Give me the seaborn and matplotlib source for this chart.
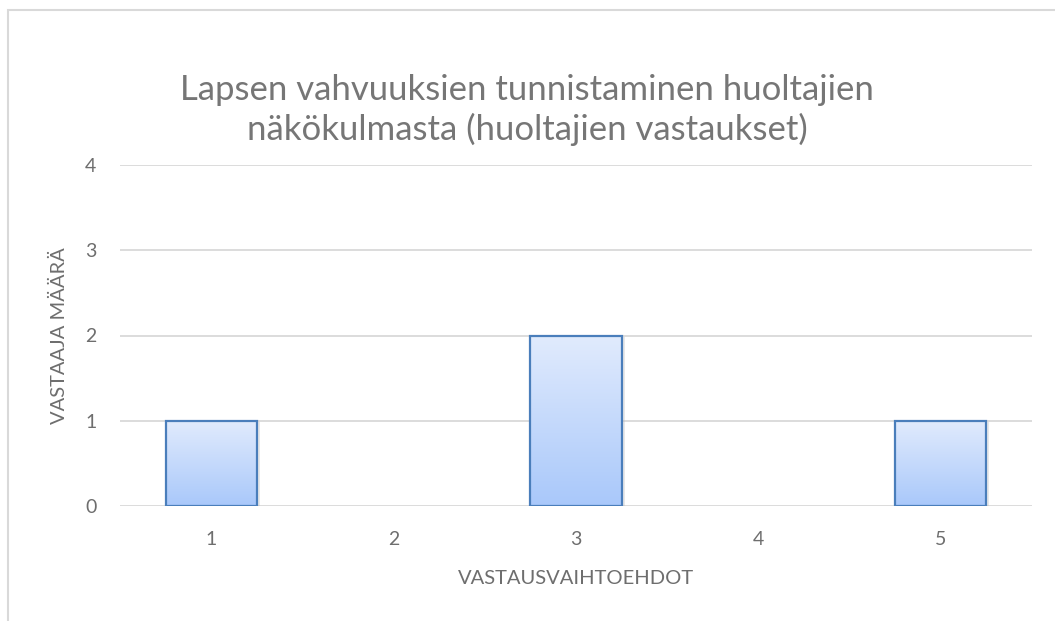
import numpy as np
import pandas as pd
import matplotlib
matplotlib.use("Agg")
import matplotlib.pyplot as plt
import seaborn as sns
from matplotlib.patches import Rectangle
from matplotlib.colors import LinearSegmentedColormap

categories = ["1", "2", "3", "4", "5"]
values = [1, 0, 2, 0, 1]
yticks = [0, 1, 2, 3, 4]
title = "Lapsen vahvuuksien tunnistaminen huoltajien\nnäkökulmasta (huoltajien vastaukset)"
xlabel = "VASTAUSVAIHTOEHDOT"
ylabel = "VASTAAJA MÄÄRÄ"

sns.set_theme(style="white")
plt.rcParams['font.family'] = ['Lato', 'DejaVu Sans']

W, H = 1055, 621
fig = plt.figure(figsize=(W / 100, H / 100), dpi=100)
ax = fig.add_axes([120 / W, 1 - 506 / H, (1032 - 120) / W, (506 - 165) / H])

df = pd.DataFrame({"cat": categories, "val": values})
sns.barplot(data=df, x="cat", y="val", ax=ax, width=0.5, color="#c5d9fb",
            edgecolor="#4a7ebb", linewidth=1.6, zorder=3)

ax.set_ylim(0, 4)
ax.set_yticks(yticks)
ax.set_xlim(-0.5, len(categories) - 0.5)
for y in yticks:
    ax.axhline(y, color="#d9d9d9", lw=1.3, zorder=1)
for s in ax.spines.values():
    s.set_visible(False)

grad = np.linspace(0, 1, 256).reshape(-1, 1)
cmap = LinearSegmentedColormap.from_list("g", ["#a9c8fa", "#e1ebfd"])
for p in ax.patches:
    h = p.get_height()
    if h == 0:
        p.set_visible(False)
        continue
    x0 = p.get_x()
    w = p.get_width()
    sh = Rectangle((x0 + 0.006, 0), w + 0.01, h - 0.02, facecolor="#bfbfbf",
                   alpha=0.35, edgecolor="none", zorder=2)
    ax.add_patch(sh)
    im = ax.imshow(grad, extent=[x0, x0 + w, 0, h], origin="lower",
                   aspect="auto", cmap=cmap, zorder=3.5)
    im.set_clip_path(p)
    p.set_facecolor("none")
    p.set_zorder(4)

txt = "#6e6e6e"
ax.tick_params(axis="both", length=0, labelsize=14, labelcolor=txt)
ax.tick_params(axis="x", pad=18)
ax.tick_params(axis="y", pad=17)
ax.set_xlabel(xlabel, fontsize=14.5, color=txt, labelpad=16)
ax.set_ylabel(ylabel, fontsize=14.5, color=txt, labelpad=12)

fig.text(527 / W, 1 - 110 / H, title, ha="center", va="center",
         fontsize=25, color="#767676", linespacing=1.25)

fig.patches.append(Rectangle((8 / W, -0.1), 1.2, 1 - 10 / H + 0.1,
                             transform=fig.transFigure, fill=False,
                             edgecolor="#d9d9d9", lw=1.5))

fig.savefig("out.png", dpi=100, facecolor="white")
